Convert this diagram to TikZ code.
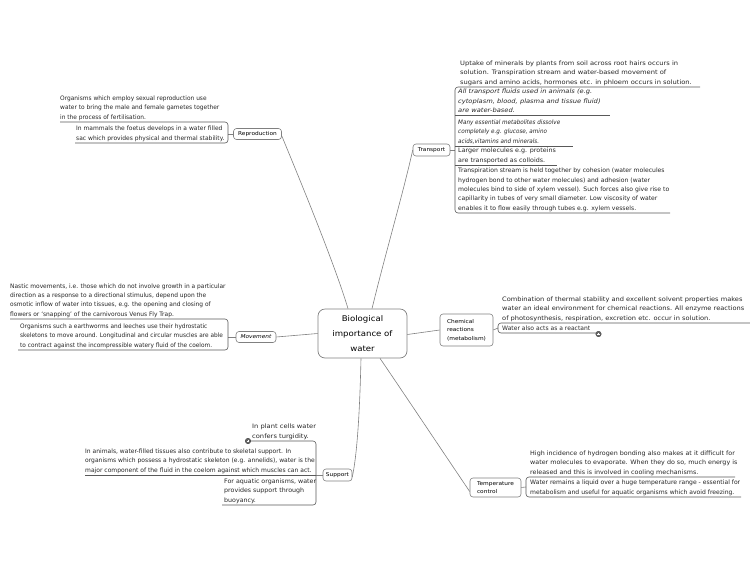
\documentclass[tikz,border=0pt]{standalone}
\usepackage{graphicx}
\usepackage{fontspec}
\setmainfont{DejaVu Sans}[FakeStretch=1.1]
\newcommand{\sx}[2]{\scalebox{#1}[1]{\begin{tabular}{@{}l@{}}#2\end{tabular}}}
\begin{document}
\begin{tikzpicture}[x=1pt,y=-1pt,
  conn/.style={draw=black!50, line width=0.6pt},
  ul/.style={draw=black!65, line width=0.6pt, rounded corners=3pt},
  topic/.style={draw=black!50, line width=0.6pt, rounded corners=3pt, inner sep=0pt, font=\fontsize{5.3}{8.5}\selectfont, align=left},
  txt/.style={anchor=south west, inner sep=0pt, font=\fontsize{6.1}{9.3}\selectfont, text=black!85},
  central/.style={draw=black!50, line width=0.7pt, rounded corners=7pt, minimum width=89pt, minimum height=49pt, align=center, inner sep=0pt, font=\fontsize{7.8}{15}\selectfont},
  marker/.style={circle, draw=black!75, fill=black!60, inner sep=0pt, minimum size=5.5pt}
]
\path[use as bounding box] (0,0) rectangle (750,563);

% central
\node[central] (c) at (362.5,333.5) {Biological\\importance of\\water};

% main topics
\node[topic, minimum width=48pt, minimum height=11pt] (rep) at (257.5,134) {Reproduction};
\node[topic, minimum width=37pt, minimum height=12pt] (tra) at (431.5,150) {Transport};
\node[topic, minimum width=40pt, minimum height=11pt] (mov) at (256,337) {\itshape Movement};
\node[topic, minimum width=53pt, minimum height=32pt, inner xsep=4pt] (che) at (466.5,330) {Chemical\\reactions\\(metabolism)};
\node[topic, minimum width=29pt, minimum height=12pt] (sup) at (337.5,475) {Support};
\node[topic, minimum width=51pt, minimum height=19pt, inner xsep=4pt] (tem) at (495.5,487.5) {Temperature\\control};

% connectors from centre
\draw[conn] ([xshift=-14.5pt]c.north) .. controls (335,265) and (300,180) .. ([yshift=-2pt]rep.east);
\draw[conn] ([xshift=9.5pt]c.north) .. controls (385,255) and (404,190) .. (tra.west);
\draw[conn] (c.west) -- (mov.east);
\draw[conn] ([yshift=-1pt]c.east) -- (che.west);
\draw[conn] ([xshift=-1.5pt]c.south) .. controls (360,400) and (358,450) .. ([yshift=-2pt]sup.east);
\draw[conn] ([xshift=17.5pt]c.south) .. controls (405,395) and (445,455) .. ([yshift=-4pt]tem.west);

% Reproduction
\coordinate (rb) at (228,134);
\draw[conn] (rep.west) -- (rb);
\draw[ul] (60,122) -- (228,122) -- (228,143) -- (75,143);
\node[txt] (r1) at (60,122) {\sx{0.875}{Organisms which employ sexual reproduction use\\water to bring the male and female gametes together\\in the process of fertilisation.}};
\node[txt] (r2) at (76,143) {\sx{0.89}{In mammals the foetus develops in a water filled\\sac which provides physical and thermal stability.}};

% Transport
\coordinate (tb) at (455,150);
\draw[conn] (tra.east) -- (tb);
\draw[ul] (700,87) -- (455,87) -- (455,213) -- (670,213);
\draw[ul] (455,115) -- (610,115);
\draw[ul] (455,146) -- (573,146);
\draw[ul] (455,165) -- (557,165);
\node[txt] (t1) at (460,87) {\sx{1.0}{Uptake of minerals by plants from soil across root hairs occurs in\\solution. Transpiration stream and water-based movement of\\sugars and amino acids, hormones etc. in phloem occurs in solution.}};
\node[txt] (t2) at (458,115.5) {\sx{1.0}{\itshape All transport fluids used in animals (e.g.\\\itshape cytoplasm, blood, plasma and tissue fluid)\\\itshape are water-based.}};
\node[txt] (t3) at (458,146) {\sx{0.84}{\itshape Many essential metabolites dissolve\\\itshape completely e.g. glucose, amino\\\itshape acids,vitamins and minerals.}};
\node[txt] (t4) at (458,165) {\sx{0.95}{Larger molecules e.g. proteins\\are transported as colloids.}};
\node[txt] (t5) at (458,213) {\sx{0.91}{Transpiration stream is held together by cohesion (water molecules\\hydrogen bond to other water molecules) and adhesion (water\\molecules bind to side of xylem vessel). Such forces also give rise to\\capillarity in tubes of very small diameter. Low viscosity of water\\enables it to flow easily through tubes e.g. xylem vessels.}};

% Movement
\coordinate (mb) at (228,337);
\draw[conn] (mov.west) -- (mb);
\draw[ul] (10,319) -- (228,319) -- (228,350) -- (18,350);
\node[txt] (m1) at (10,319) {\sx{0.88}{Nastic movements, i.e. those which do not involve growth in a particular\\direction as a response to a directional stimulus, depend upon the\\osmotic inflow of water into tissues, e.g. the opening and closing of\\flowers or `snapping' of the carnivorous Venus Fly Trap.}};
\node[txt] (m2) at (20,350) {\sx{0.865}{Organisms such a earthworms and leeches use their hydrostatic\\skeletons to move around. Longitudinal and circular muscles are able\\to contract against the incompressible watery fluid of the coelom.}};

% Chemical reactions
\coordinate (cb) at (498,328);
\draw[conn] (che.east) -- (cb);
\draw[ul] (750,323) -- (498,323) -- (498,333) -- (596,333);
\node[txt] (c1) at (502,323) {\sx{0.99}{Combination of thermal stability and excellent solvent properties makes\\water an ideal environment for chemical reactions. All enzyme reactions\\of photosynthesis, respiration, excretion etc. occur in solution.}};
\node[txt] (c2) at (502,333) {\sx{0.9}{Water also acts as a reactant}};
\node[marker] (cm) at (598.5,334) {};
\draw[white, line width=0.35pt] ([xshift=-1.2pt]cm.center) -- ([xshift=1.2pt]cm.center) ([yshift=-1.2pt]cm.center) -- ([yshift=1.2pt]cm.center);

% Support
\coordinate (sb) at (316,475);
\draw[conn] (sup.west) -- (sb);
\draw[ul] (250,441) -- (316,441) -- (316,505) -- (222,505);
\draw[ul] (85,475) -- (316,475);
\node[txt] (s1) at (252,441) {\sx{1.0}{In plant cells water\\confers turgidity.}};
\node[txt] (s2) at (85,475) {\sx{0.895}{In animals, water-filled tissues also contribute to skeletal support. In\\organisms which possess a hydrostatic skeleton (e.g. annelids), water is the\\major component of the fluid in the coelom against which muscles can act.}};
\node[txt] (s3) at (224,505) {\sx{0.94}{For aquatic organisms, water\\provides support through\\buoyancy.}};
\node[marker] (sm) at (248,441) {};
\draw[white, line width=0.35pt] ([xshift=-1.2pt]sm.center) -- ([xshift=1.2pt]sm.center) ([yshift=-1.2pt]sm.center) -- ([yshift=1.2pt]sm.center);

% Temperature control
\coordinate (eb) at (526,487);
\draw[conn] (tem.east) -- (eb);
\draw[ul] (735,477) -- (526,477) -- (526,497) -- (741,497);
\node[txt] (e1) at (530,477) {\sx{0.95}{High incidence of hydrogen bonding also makes at it difficult for\\water molecules to evaporate. When they do so, much energy is\\released and this is involved in cooling mechanisms.}};
\node[txt] (e2) at (530,497) {\sx{0.905}{Water remains a liquid over a huge temperature range - essential for\\metabolism and useful for aquatic organisms which avoid freezing.}};
\end{tikzpicture}
\end{document}
